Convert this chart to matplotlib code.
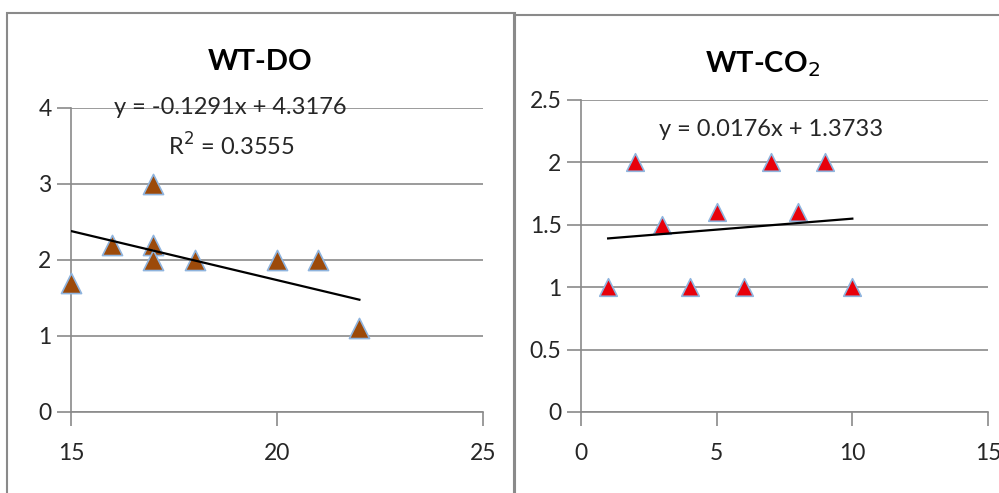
import matplotlib
matplotlib.use("Agg")
import matplotlib.pyplot as plt
import numpy as np
from matplotlib.patches import Rectangle

# data
do_x = [15, 16, 17, 17, 17, 18, 20, 21, 22]
do_y = [1.7, 2.2, 3.0, 2.2, 2.0, 2.0, 2.0, 2.0, 1.1]
do_slope, do_icpt = -0.1291, 4.3176

co2_x = [1, 2, 3, 4, 5, 6, 7, 8, 9, 10]
co2_y = [1.0, 2.0, 1.5, 1.0, 1.6, 1.0, 2.0, 1.6, 2.0, 1.0]
co2_slope, co2_icpt = 0.0176, 1.3733

plt.rcParams['font.family'] = ['Lato', 'DejaVu Sans']

W, H = 999, 493
fig = plt.figure(figsize=(W / 100, H / 100), dpi=100)
GRAY = '#8a8a8a'
TXT = '#262626'

def px_axes(x0, y0, x1, y1):
    # pixel box (top-left origin) -> figure axes
    return fig.add_axes([x0 / W, 1 - y1 / H, (x1 - x0) / W, (y1 - y0) / H])

# panel frames
fig.patches.append(Rectangle((7 / W, -0.05), (515 - 7) / W, 1.05 - 13 / H,
                             transform=fig.transFigure, fill=False, ec=GRAY, lw=1.5))
fig.patches.append(Rectangle((514 / W, -0.05), 0.6, 1.05 - 15 / H,
                             transform=fig.transFigure, fill=False, ec=GRAY, lw=1.5))

def style(ax, xlim, ylim, xt, yt):
    ax.set_xlim(*xlim)
    ax.set_ylim(*ylim)
    ax.set_xticks(xt)
    ax.set_yticks(yt)
    ax.set_xticklabels([f'{v:g}' for v in xt])
    ax.set_yticklabels([f'{v:g}' for v in yt])
    for s in ['top', 'right']:
        ax.spines[s].set_visible(False)
    for s in ['left', 'bottom']:
        ax.spines[s].set_color(GRAY)
        ax.spines[s].set_linewidth(1.2)
    ax.tick_params(axis='y', length=10, width=1.2, color=GRAY, labelsize=16.5,
                   labelcolor=TXT, pad=4)
    ax.tick_params(axis='x', length=10, width=1.2, color=GRAY, labelsize=16.5,
                   labelcolor=TXT, pad=12)
    ax.yaxis.grid(True, color=GRAY, lw=1.2)
    ax.set_axisbelow(True)
    ax.patch.set_alpha(0)

ax1 = px_axes(71, 108, 483, 412)
style(ax1, (15, 25), (0, 4), [15, 20, 25], [0, 1, 2, 3, 4])
ax1.scatter(do_x, do_y, marker='^', s=210, c='#9c4a0a', edgecolors='#8fb4de',
            linewidths=1.2, zorder=3, clip_on=False)
lx = np.array([min(do_x), max(do_x)])
ax1.plot(lx, do_slope * lx + do_icpt, color='black', lw=1.6, zorder=4)
ax1.text(0.46, 1.15, 'WT-DO', transform=ax1.transAxes, ha='center', va='center',
         fontsize=21, fontweight='bold', color='black')
ax1.text(0.386, 1.0, 'y = -0.1291x + 4.3176', transform=ax1.transAxes,
         ha='center', va='center', fontsize=17, color=TXT)
ax1.text(0.39, 0.875, 'R$^2$ = 0.3555', transform=ax1.transAxes,
         ha='center', va='center', fontsize=17, color=TXT)

ax2 = px_axes(581, 100, 988, 412)
style(ax2, (0, 15), (0, 2.5), [0, 5, 10, 15], [0, 0.5, 1, 1.5, 2, 2.5])
ax2.scatter(co2_x, co2_y, marker='^', s=160, c='#e8000b', edgecolors='#8fb4de',
            linewidths=1.2, zorder=3)
lx = np.array([min(co2_x), max(co2_x)])
ax2.plot(lx, co2_slope * lx + co2_icpt, color='black', lw=1.6, zorder=4)
ax2.text(0.447, 1.115, 'WT-CO$_2$', transform=ax2.transAxes, ha='center', va='center',
         fontsize=21, fontweight='bold', color='black')
ax2.text(0.468, 0.905, 'y = 0.0176x + 1.3733', transform=ax2.transAxes,
         ha='center', va='center', fontsize=17, color=TXT)

fig.savefig('out.png', dpi=100)
